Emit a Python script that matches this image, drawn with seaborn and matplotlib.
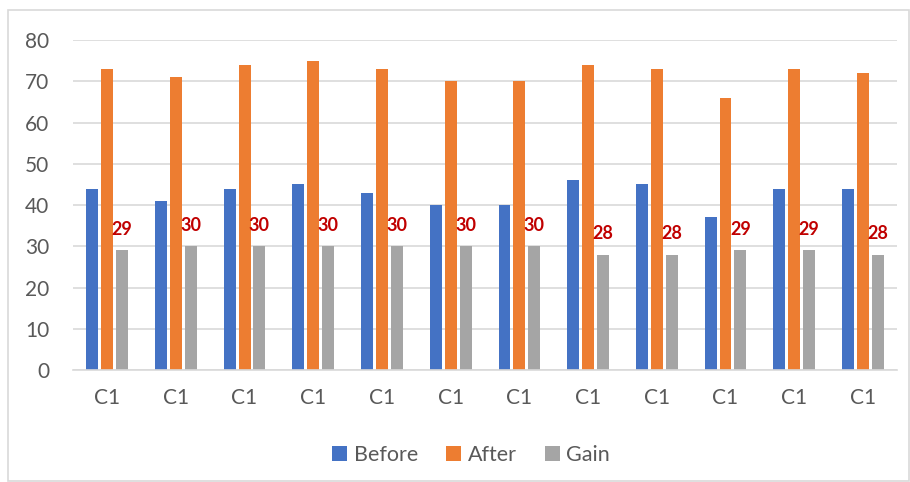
import seaborn as sns
import matplotlib.pyplot as plt
import pandas as pd
from matplotlib.patches import Rectangle

categories = ['C1'] * 12
before = [44, 41, 44, 45, 43, 40, 40, 46, 45, 37, 44, 44]
after = [73, 71, 74, 75, 73, 70, 70, 74, 73, 66, 73, 72]
gain = [29, 30, 30, 30, 30, 30, 30, 28, 28, 29, 29, 28]
series = ['Before', 'After', 'Gain']
colors = ['#4472C4', '#ED7D31', '#A5A5A5']

rows = []
for i in range(len(categories)):
    for name, vals in zip(series, [before, after, gain]):
        rows.append({'grp': i, 'series': name, 'value': vals[i]})
df = pd.DataFrame(rows)

sns.set_style('white')
plt.rcParams['font.family'] = ['Lato', 'DejaVu Sans']

fig = plt.figure(figsize=(9.1, 4.82), dpi=100)
ax = fig.add_axes([0.080, 0.232, 0.906, 0.685])

sns.barplot(data=df, x='grp', y='value', hue='series', hue_order=series,
            palette=colors, width=0.65, gap=0.2, ax=ax, legend=True,
            saturation=1, edgecolor='none')

ax.set_ylim(0, 80)
ax.set_yticks(range(0, 81, 10))
ax.yaxis.grid(True, color='#d9d9d9', linewidth=1.2)
ax.set_axisbelow(True)
for s in ['top', 'right', 'left']:
    ax.spines[s].set_visible(False)
ax.spines['bottom'].set_color('#d9d9d9')
ax.spines['bottom'].set_linewidth(1.2)
ax.set_xticks(range(len(categories)))
ax.set_xticklabels(categories)
ax.tick_params(axis='both', length=0, labelsize=15, labelcolor='#595959')
ax.tick_params(axis='x', pad=13)
ax.tick_params(axis='y', pad=17)
ax.set_xlabel('')
ax.set_ylabel('')
ax.set_xlim(-0.5, len(categories) - 0.5)

ax.bar_label(ax.containers[2], labels=[str(g) for g in gain], padding=9,
             color='#C00000', fontweight='bold', fontsize=13)

handles, labels = ax.get_legend_handles_labels()
ax.get_legend().remove()
fig.legend(handles, labels, loc='center', bbox_to_anchor=(471 / 910, 0.056),
           ncol=3, frameon=False, fontsize=15.5, labelcolor='#595959',
           handlelength=0.7, handleheight=0.7, handletextpad=0.3,
           columnspacing=1.3)

fig.patches.append(Rectangle((0.009, 0.003), 0.99, 0.976, transform=fig.transFigure,
                             fill=False, edgecolor='#d9d9d9', linewidth=1.2))

fig.savefig('out.png', dpi=100)
